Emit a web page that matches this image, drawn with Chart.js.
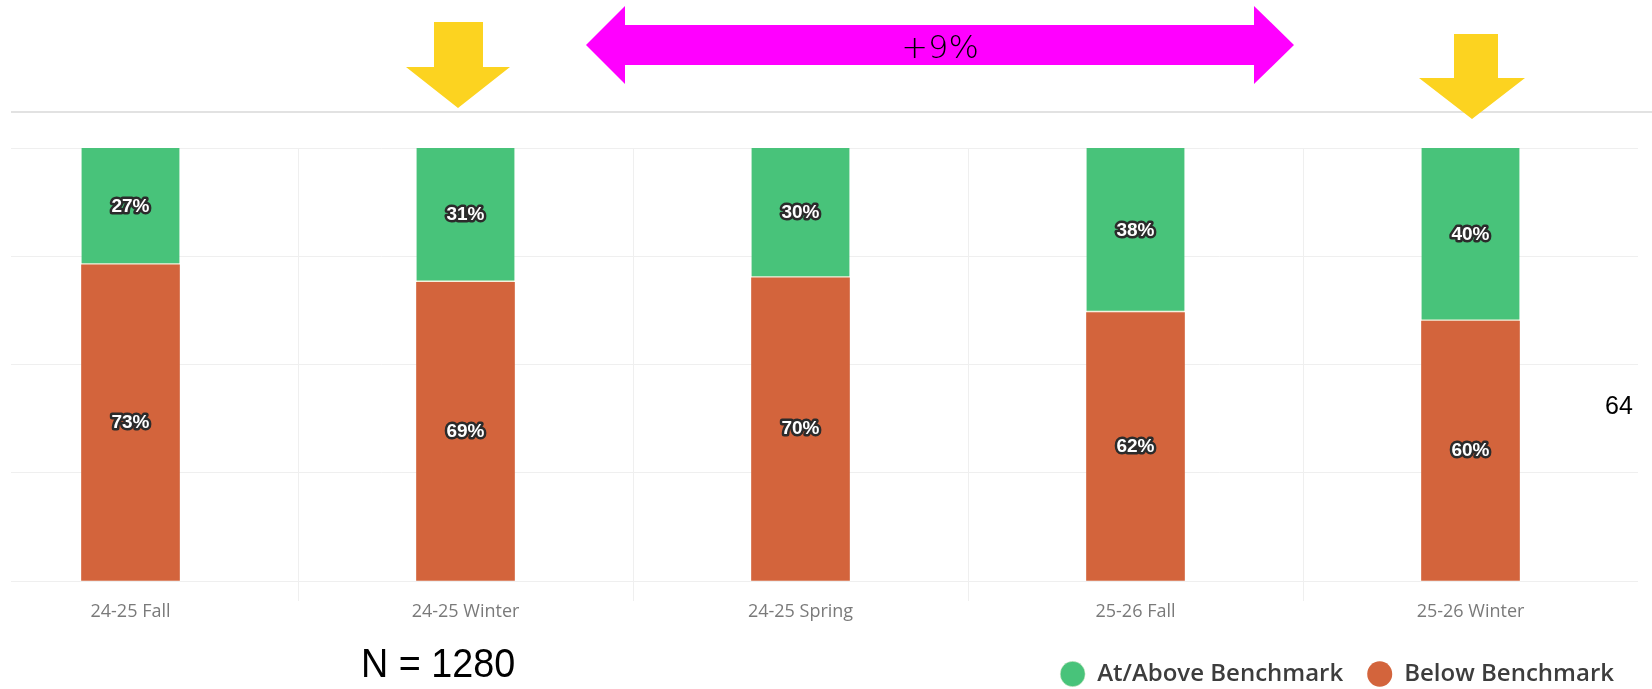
<!DOCTYPE html>
<html>
<head>
<meta charset="utf-8">
<title>Benchmark by season</title>
<script src="https://cdn.jsdelivr.net/npm/chart.js@4.4.1/dist/chart.umd.min.js"></script>
<style>
    html, body { margin: 0; padding: 0; background: #fff; }
    body { width: 1652px; height: 689px; position: relative; overflow: hidden; font-family: "Liberation Sans", Arial, sans-serif; }
    .top-rule { position: absolute; left: 11px; top: 111px; width: 1641px; height: 2px; background: #e2e2e2; }
    .chart-wrap { position: absolute; left: 11px; top: 0; width: 1641px; height: 689px; overflow: hidden; }
    .chart-box { position: absolute; left: -48px; top: 0; width: 1675px; height: 696px; }
    .overlay { position: absolute; left: 0; top: 0; pointer-events: none; }
    .note { position: absolute; color: #000; white-space: nowrap; }
    #gain { left: 880px; top: 28px; width: 120px; text-align: center; font-family: "DejaVu Sans", sans-serif; font-size: 32px; font-weight: 300; }
    #nCount { left: 361px; top: 640px; font-size: 41px; transform: scaleX(0.92); transform-origin: left top; }
    #sideNum { left: 1605px; top: 391px; font-size: 25px; }
</style>
</head>
<body>
    <div class="top-rule"></div>
    <div class="chart-wrap">
        <div class="chart-box"><canvas id="benchChart"></canvas></div>
    </div>

    <!-- call-outs drawn over the chart -->
    <svg class="overlay" width="1652" height="689">
        <polygon fill="#fcd320" points="434,22 483,22 483,67 510,67 458,108 406,67 434,67"/>
        <polygon fill="#fcd320" points="1454,34 1498,34 1498,78 1525,78 1472,119 1419,78 1454,78"/>
        <polygon fill="#ff00ff" points="586,45 625,6 625,25 1254,25 1254,6 1294,45 1254,84 1254,65 625,65 625,84"/>
    </svg>
    <div class="note" id="gain">+9%</div>
    <div class="note" id="nCount">N = 1280</div>
    <div class="note" id="sideNum">64</div>

<script>
const categories = ['24-25 Fall', '24-25 Winter', '24-25 Spring', '25-26 Fall', '25-26 Winter'];
const belowBenchmark = [73, 69, 70, 62, 60];
const atAboveBenchmark = [27, 31, 30, 38, 40];
const yTicks = [0, 25, 50, 75, 100];

const GREEN = '#48c37a';
const ORANGE = '#d3643c';

// white % labels with a dark outline, centred in each segment
const segmentLabels = {
    id: 'segmentLabels',
    afterDatasetsDraw(chart) {
        const ctx = chart.ctx;
        ctx.save();
        ctx.font = 'bold 19px "Liberation Sans", Arial, sans-serif';
        ctx.textAlign = 'center';
        ctx.textBaseline = 'middle';
        ctx.lineJoin = 'round';
        chart.data.datasets.forEach((ds, i) => {
            const meta = chart.getDatasetMeta(i);
            meta.data.forEach((bar, j) => {
                const y = (bar.y + bar.base) / 2;
                const txt = ds.data[j] + '%';
                ctx.lineWidth = 5;
                ctx.strokeStyle = '#2b2b2b';
                ctx.strokeText(txt, bar.x, y);
                ctx.fillStyle = '#fff';
                ctx.fillText(txt, bar.x, y);
            });
        });
        ctx.restore();
    }
};

const ctx = document.getElementById('benchChart').getContext('2d');
new Chart(ctx, {
    type: 'bar',
    data: {
        labels: categories,
        datasets: [
            {
                label: 'Below Benchmark',
                data: belowBenchmark,
                backgroundColor: ORANGE,
                borderWidth: 0
            },
            {
                label: 'At/Above Benchmark',
                data: atAboveBenchmark,
                backgroundColor: GREEN,
                borderColor: '#f4f1dc',
                borderWidth: { top: 0, left: 0, right: 0, bottom: 2 },
                borderSkipped: false
            }
        ]
    },
    options: {
        responsive: true,
        maintainAspectRatio: false,
        animation: false,
        barThickness: 98,
        layout: { padding: { top: 148, left: 0, right: 0, bottom: 0 } },
        plugins: {
            tooltip: { enabled: false },
            legend: {
                position: 'bottom',
                align: 'end',
                reverse: true,
                labels: {
                    usePointStyle: true,
                    pointStyle: 'circle',
                    boxHeight: 18,
                    pointStyleWidth: 25,
                    padding: 24,
                    color: '#3d3d3d',
                    font: { family: '"Open Sans", sans-serif', size: 24, weight: '600' }
                }
            }
        },
        scales: {
            x: {
                stacked: true,
                grid: { color: '#efefef', tickLength: 20, offset: true },
                border: { color: '#efefef' },
                ticks: {
                    padding: 0,
                    color: '#7a7a7a',
                    font: { family: '"Open Sans", sans-serif', size: 18 }
                },
                afterFit: (scale) => { scale.height = 57; }
            },
            y: {
                stacked: true,
                min: yTicks[0],
                max: yTicks[yTicks.length - 1],
                afterBuildTicks: (scale) => { scale.ticks = yTicks.map(v => ({ value: v })); },
                grid: { color: '#efefef', drawTicks: false },
                border: { display: false },
                ticks: { display: false }
            }
        }
    },
    plugins: [segmentLabels]
});
</script>
</body>
</html>
